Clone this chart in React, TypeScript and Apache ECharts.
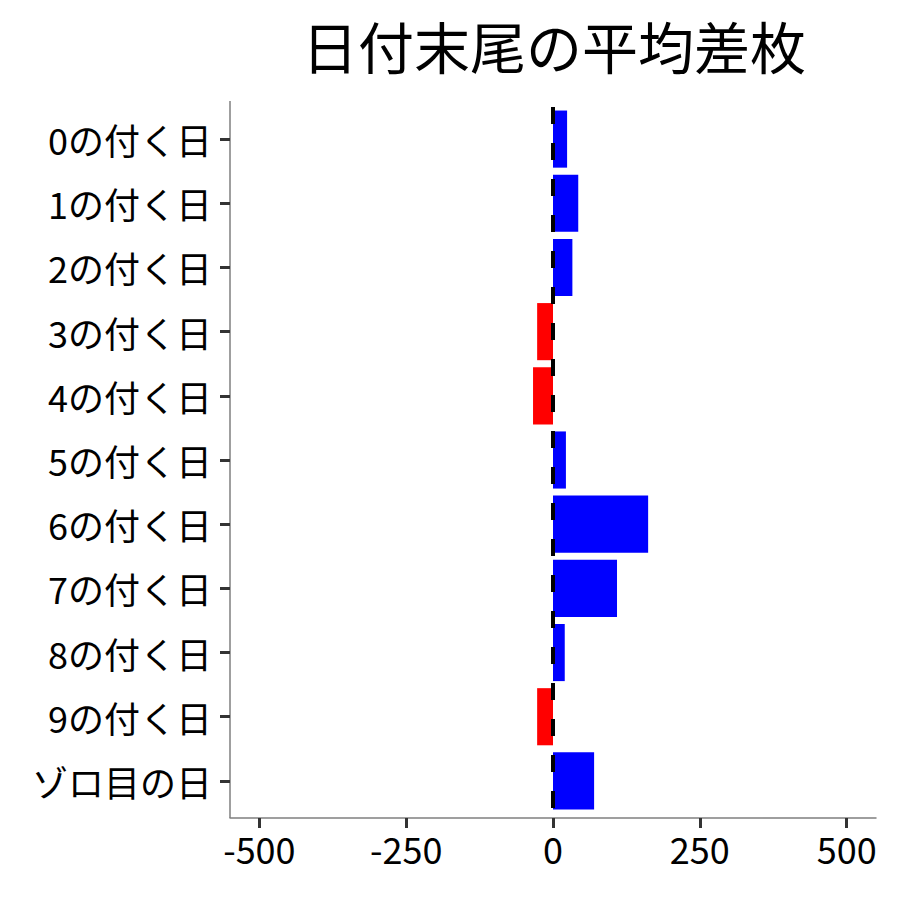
import React, { useEffect, useRef } from 'react'
import * as echarts from 'echarts'
import type { ECharts, EChartsOption } from 'echarts'

const title = '日付末尾の平均差枚'
const categories = [
  '0の付く日',
  '1の付く日',
  '2の付く日',
  '3の付く日',
  '4の付く日',
  '5の付く日',
  '6の付く日',
  '7の付く日',
  '8の付く日',
  '9の付く日',
  'ゾロ目の日',
]
const avgDiff = [24, 43, 33, -27, -34, 22, 162, 109, 20, -27, 70]
const xTicks = [-500, -250, 0, 250, 500]

const FONT = '"Noto Sans CJK JP", "Noto Sans", sans-serif'

export default function App() {
  const chartRef = useRef<HTMLDivElement | null>(null)
  const chartInstance = useRef<ECharts | null>(null)

  useEffect(() => {
    const option: EChartsOption = {
      animation: false,
      textStyle: { fontFamily: FONT },
      grid: {
        left: 230,
        right: 24,
        top: 107,
        bottom: 87,
      },
      xAxis: {
        type: 'value',
        min: -550,
        max: 550,
        offset: 5,
        splitLine: { show: false },
        axisLine: { show: true, onZero: false, lineStyle: { color: '#7f7f7f', width: 1.5 } },
        axisTick: {
          show: true,
          customValues: xTicks,
          length: 10,
          lineStyle: { color: '#333333', width: 3 },
        },
        axisLabel: {
          customValues: xTicks,
          fontSize: 36,
          color: '#000000',
          margin: 12,
          fontFamily: FONT,
        },
      },
      yAxis: {
        type: 'category',
        inverse: true,
        data: categories,
        axisLine: { show: false, onZero: false },
        axisTick: {
          show: true,
          alignWithLabel: true,
          length: 10,
          lineStyle: { color: '#333333', width: 3 },
        },
        axisLabel: {
          fontSize: 36,
          color: '#000000',
          margin: 18,
          fontFamily: FONT,
        },
      },
      series: [
        {
          type: 'bar',
          data: avgDiff,
          barWidth: '89%',
          itemStyle: {
            color: (p: any) => (p.value < 0 ? '#ff0000' : '#0000ff'),
          },
          markLine: {
            silent: true,
            symbol: 'none',
            label: { show: false },
            lineStyle: { color: '#000000', width: 4, type: [17, 19] },
            data: [{ xAxis: 0 }],
          },
        },
      ],
      graphic: [
        {
          type: 'line',
          shape: { x1: 230, y1: 101, x2: 230, y2: 818 },
          style: { stroke: '#7f7f7f', lineWidth: 1.5 },
        },
        {
          type: 'text',
          x: 554,
          y: 44,
          style: {
            text: title,
            fontSize: 56,
            fontFamily: FONT,
            fill: '#000000',
            textAlign: 'center',
            textVerticalAlign: 'middle',
          },
        },
      ],
    }

    if (chartRef.current) {
      chartInstance.current = echarts.init(chartRef.current, null, { renderer: 'svg' })
      chartInstance.current.setOption(option)
    }

    return () => {
      chartInstance.current?.dispose()
    }
  }, [])

  return (
    <div
      ref={chartRef}
      style={{ position: 'fixed', left: 0, top: 0, width: '900px', height: '900px', background: '#ffffff' }}
    />
  )
}
